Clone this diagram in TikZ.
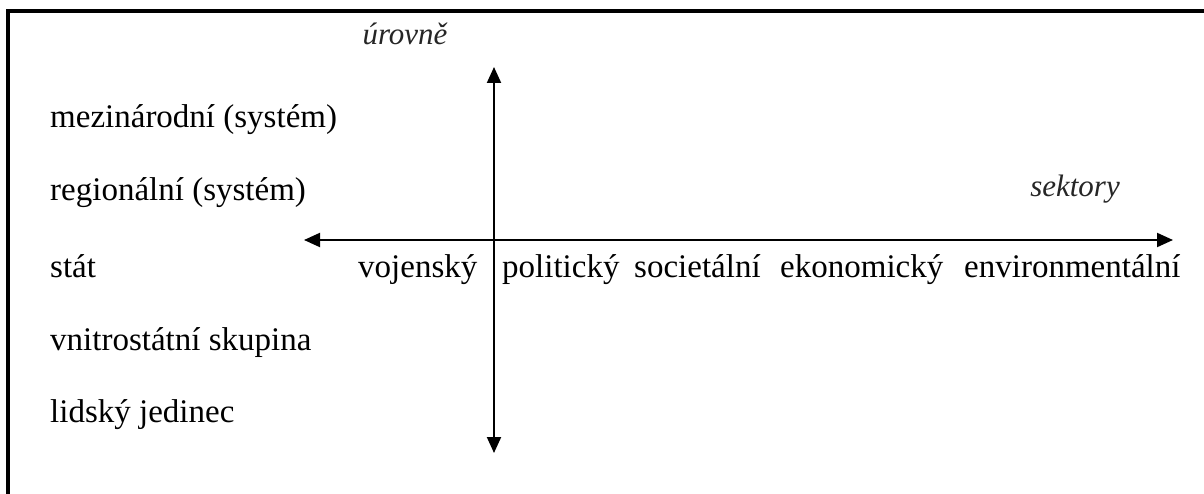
\documentclass[tikz,border=0pt]{standalone}
\usepackage{fontspec}
\setmainfont{Liberation Serif}
\usetikzlibrary{arrows.meta,positioning}

\begin{document}
\begin{tikzpicture}[x=1pt, y=-1pt,
    lvl/.style={anchor=base west, inner sep=0pt, font=\fontsize{33}{36}\selectfont},
    sec/.style={anchor=base west, inner sep=0pt, font=\fontsize{33}{36}\selectfont},
    ttl/.style={anchor=base, inner sep=0pt, font=\fontsize{31}{34}\selectfont\itshape, text=black!85},
    axis/.style={{Triangle[length=16pt, width=14pt]}-{Triangle[length=16pt, width=14pt]}, line width=2pt},
    frame/.style={line width=3.2pt}
  ]
  \useasboundingbox (0,0) rectangle (1204,494);
  \draw[frame] (8,520) -- (8,11) -- (1230,11);

  % axes
  \coordinate (up)    at (494,67);
  \coordinate (down)  at (494,453);
  \coordinate (left)  at (304,240);
  \coordinate (right) at (1173,240);
  \draw[axis] (down) -- (up);
  \draw[axis] (left) -- (right);

  \node[ttl] (urovne)  at (405,45)  {úrovně};
  \node[ttl] (sektory) at (1075,197) {sektory};

  % levels
  \node[lvl] (l1) at (50,128) {mezinárodní (systém)};
  \node[lvl] (l2) at (50,201) {regionální (systém)};
  \node[lvl] (l3) at (50,277) {stát};
  \node[lvl] (l4) at (50,350) {vnitrostátní skupina};
  \node[lvl] (l5) at (50,422) {lidský jedinec};

  % sectors
  \node[sec] (s1) at (358,277) {vojenský};
  \node[sec] (s2) at (502,277) {politický};
  \node[sec] (s3) at (634,277) {societální};
  \node[sec] (s4) at (780,277) {ekonomický};
  \node[sec] (s5) at (964,277) {environmentální};
\end{tikzpicture}
\end{document}
